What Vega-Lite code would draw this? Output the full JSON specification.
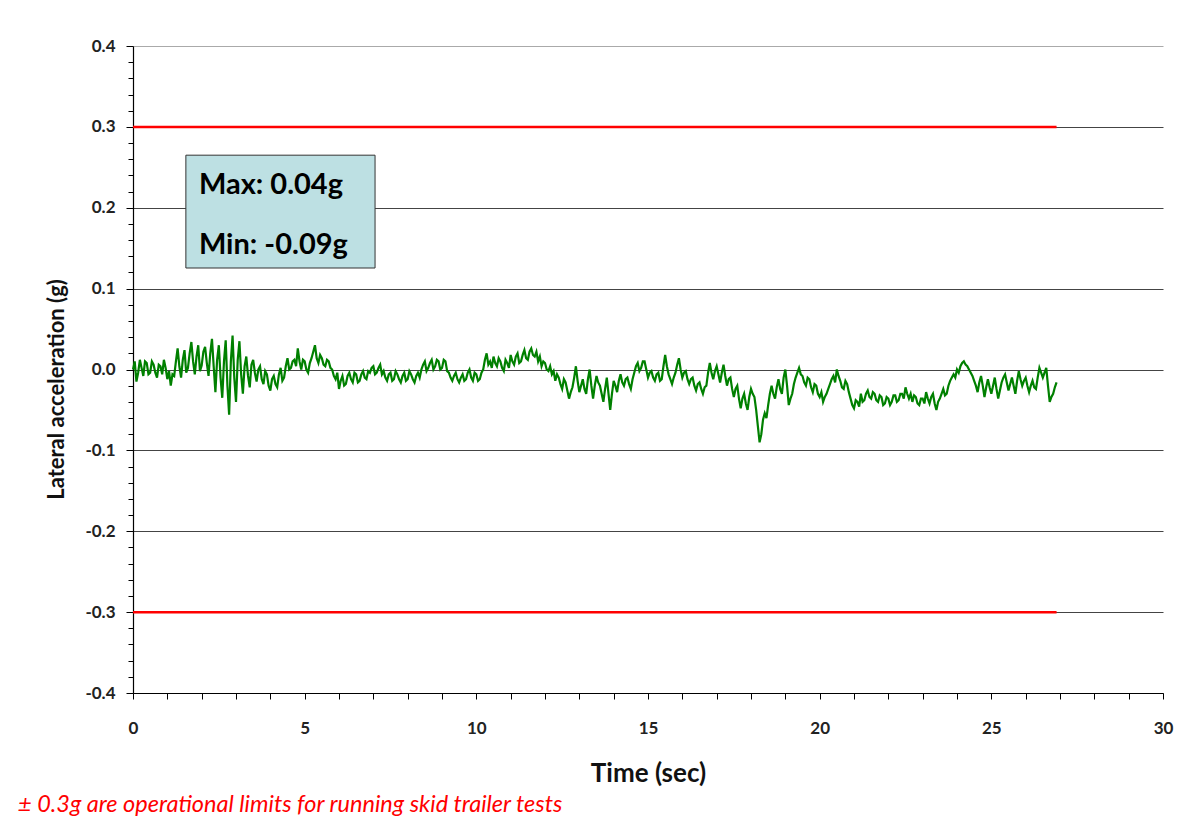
{
  "$schema": "https://vega.github.io/schema/vega-lite/v6.json",
  "width": 1030,
  "height": 647,
  "autosize": {"type": "none"},
  "padding": {"left": 133, "top": 46, "right": 32, "bottom": 126},
  "background": "white",
  "config": {"view": {"stroke": null}, "font": "Lato"},
  "title": {"text": "± 0.3g are operational limits for running skid trailer tests", "orient": "bottom", "anchor": "start", "frame": "group", "dx": -115, "offset": 7, "font": "Lato", "fontSize": 23.5, "fontStyle": "italic", "fontWeight": "normal", "color": "#ff0000"},
  "datasets": {
    "accel": [
      {"t":0.0,"g":0.000},{"t":0.05,"g":0.010},{"t":0.1,"g":-0.015},{"t":0.15,"g":-0.004},{"t":0.2,"g":0.012},{"t":0.25,"g":0.002},{"t":0.3,"g":-0.008},{"t":0.35,"g":0.010},{"t":0.4,"g":0.008},{"t":0.45,"g":-0.006},
      {"t":0.5,"g":-0.004},{"t":0.55,"g":0.010},{"t":0.6,"g":0.006},{"t":0.65,"g":-0.004},{"t":0.7,"g":-0.010},{"t":0.75,"g":0.006},{"t":0.8,"g":0.004},{"t":0.85,"g":-0.006},{"t":0.9,"g":0.012},{"t":0.95,"g":0.002},
      {"t":1.0,"g":-0.012},{"t":1.05,"g":-0.002},{"t":1.1,"g":-0.020},{"t":1.15,"g":-0.006},{"t":1.2,"g":-0.008},{"t":1.25,"g":0.010},{"t":1.3,"g":0.026},{"t":1.35,"g":0.004},{"t":1.4,"g":-0.010},{"t":1.45,"g":0.012},
      {"t":1.5,"g":0.024},{"t":1.55,"g":-0.004},{"t":1.6,"g":0.002},{"t":1.65,"g":0.020},{"t":1.7,"g":0.034},{"t":1.75,"g":0.010},{"t":1.8,"g":-0.006},{"t":1.85,"g":0.016},{"t":1.9,"g":0.030},{"t":1.95,"g":-0.002},
      {"t":2.0,"g":0.005},{"t":2.05,"g":0.022},{"t":2.1,"g":0.028},{"t":2.15,"g":0.008},{"t":2.2,"g":-0.008},{"t":2.25,"g":0.020},{"t":2.3,"g":0.038},{"t":2.35,"g":0.004},{"t":2.4,"g":-0.028},{"t":2.45,"g":0.012},
      {"t":2.5,"g":0.030},{"t":2.55,"g":-0.010},{"t":2.6,"g":-0.035},{"t":2.65,"g":0.010},{"t":2.7,"g":0.036},{"t":2.75,"g":-0.020},{"t":2.8,"g":-0.056},{"t":2.85,"g":0.010},{"t":2.9,"g":0.042},{"t":2.95,"g":-0.010},
      {"t":3.0,"g":-0.040},{"t":3.05,"g":0.012},{"t":3.1,"g":0.035},{"t":3.15,"g":-0.006},{"t":3.2,"g":-0.030},{"t":3.25,"g":0.004},{"t":3.3,"g":0.016},{"t":3.35,"g":-0.008},{"t":3.4,"g":-0.022},{"t":3.45,"g":0.006},
      {"t":3.5,"g":0.012},{"t":3.55,"g":-0.004},{"t":3.6,"g":-0.015},{"t":3.65,"g":0.000},{"t":3.7,"g":0.004},{"t":3.75,"g":-0.012},{"t":3.8,"g":-0.018},{"t":3.85,"g":-0.002},{"t":3.9,"g":-0.006},{"t":3.95,"g":-0.020},
      {"t":4.0,"g":-0.026},{"t":4.05,"g":-0.012},{"t":4.1,"g":-0.008},{"t":4.15,"g":-0.018},{"t":4.2,"g":-0.022},{"t":4.25,"g":-0.006},{"t":4.3,"g":0.002},{"t":4.35,"g":-0.014},{"t":4.4,"g":-0.010},{"t":4.45,"g":0.004},
      {"t":4.5,"g":0.014},{"t":4.55,"g":0.000},{"t":4.6,"g":0.002},{"t":4.65,"g":0.010},{"t":4.7,"g":0.012},{"t":4.75,"g":0.004},{"t":4.8,"g":0.026},{"t":4.85,"g":0.010},{"t":4.9,"g":0.000},{"t":4.95,"g":0.012},
      {"t":5.0,"g":0.010},{"t":5.05,"g":0.000},{"t":5.1,"g":-0.004},{"t":5.15,"g":0.008},{"t":5.2,"g":0.014},{"t":5.25,"g":0.022},{"t":5.3,"g":0.030},{"t":5.35,"g":0.014},{"t":5.4,"g":0.008},{"t":5.45,"g":0.018},
      {"t":5.5,"g":0.014},{"t":5.55,"g":0.006},{"t":5.6,"g":0.004},{"t":5.65,"g":0.012},{"t":5.7,"g":0.010},{"t":5.75,"g":0.002},{"t":5.8,"g":0.000},{"t":5.85,"g":-0.008},{"t":5.9,"g":-0.012},{"t":5.95,"g":-0.004},
      {"t":6.0,"g":-0.024},{"t":6.05,"g":-0.014},{"t":6.1,"g":-0.008},{"t":6.15,"g":-0.020},{"t":6.2,"g":-0.018},{"t":6.25,"g":-0.008},{"t":6.3,"g":-0.004},{"t":6.35,"g":-0.012},{"t":6.4,"g":-0.016},{"t":6.45,"g":-0.004},
      {"t":6.5,"g":-0.006},{"t":6.55,"g":-0.016},{"t":6.6,"g":-0.014},{"t":6.65,"g":-0.006},{"t":6.7,"g":-0.002},{"t":6.75,"g":-0.010},{"t":6.8,"g":-0.012},{"t":6.85,"g":-0.002},{"t":6.9,"g":-0.004},{"t":6.95,"g":0.002},
      {"t":7.0,"g":0.004},{"t":7.05,"g":-0.006},{"t":7.1,"g":-0.004},{"t":7.15,"g":0.002},{"t":7.2,"g":0.006},{"t":7.25,"g":-0.006},{"t":7.3,"g":-0.002},{"t":7.35,"g":-0.010},{"t":7.4,"g":-0.014},{"t":7.45,"g":-0.006},
      {"t":7.5,"g":-0.004},{"t":7.55,"g":-0.014},{"t":7.6,"g":-0.012},{"t":7.65,"g":-0.002},{"t":7.7,"g":-0.006},{"t":7.75,"g":-0.012},{"t":7.8,"g":-0.016},{"t":7.85,"g":-0.008},{"t":7.9,"g":-0.004},{"t":7.95,"g":-0.014},
      {"t":8.0,"g":-0.012},{"t":8.05,"g":-0.002},{"t":8.1,"g":-0.006},{"t":8.15,"g":-0.012},{"t":8.2,"g":-0.016},{"t":8.25,"g":-0.008},{"t":8.3,"g":-0.004},{"t":8.35,"g":-0.010},{"t":8.4,"g":0.000},{"t":8.45,"g":0.006},
      {"t":8.5,"g":0.010},{"t":8.55,"g":-0.002},{"t":8.6,"g":0.002},{"t":8.65,"g":0.008},{"t":8.7,"g":0.012},{"t":8.75,"g":0.000},{"t":8.8,"g":0.004},{"t":8.85,"g":0.012},{"t":8.9,"g":0.010},{"t":8.95,"g":0.000},
      {"t":9.0,"g":0.002},{"t":9.05,"g":0.012},{"t":9.1,"g":0.010},{"t":9.15,"g":-0.002},{"t":9.2,"g":-0.004},{"t":9.25,"g":-0.010},{"t":9.3,"g":-0.014},{"t":9.35,"g":-0.008},{"t":9.4,"g":-0.004},{"t":9.45,"g":-0.012},
      {"t":9.5,"g":-0.016},{"t":9.55,"g":-0.010},{"t":9.6,"g":-0.006},{"t":9.65,"g":-0.014},{"t":9.7,"g":-0.012},{"t":9.75,"g":-0.004},{"t":9.8,"g":0.000},{"t":9.85,"g":-0.010},{"t":9.9,"g":-0.014},{"t":9.95,"g":-0.004},
      {"t":10.0,"g":-0.006},{"t":10.05,"g":-0.014},{"t":10.1,"g":-0.012},{"t":10.15,"g":-0.004},{"t":10.2,"g":0.000},{"t":10.25,"g":0.012},{"t":10.3,"g":0.020},{"t":10.35,"g":0.006},{"t":10.4,"g":0.010},{"t":10.45,"g":0.002},
      {"t":10.5,"g":0.016},{"t":10.55,"g":0.008},{"t":10.6,"g":0.004},{"t":10.65,"g":0.014},{"t":10.7,"g":0.010},{"t":10.75,"g":0.002},{"t":10.8,"g":-0.002},{"t":10.85,"g":0.012},{"t":10.9,"g":0.008},{"t":10.95,"g":0.002},
      {"t":11.0,"g":0.018},{"t":11.05,"g":0.010},{"t":11.1,"g":0.006},{"t":11.15,"g":0.016},{"t":11.2,"g":0.020},{"t":11.25,"g":0.008},{"t":11.3,"g":0.010},{"t":11.35,"g":0.018},{"t":11.4,"g":0.024},{"t":11.45,"g":0.014},
      {"t":11.5,"g":0.012},{"t":11.55,"g":0.022},{"t":11.6,"g":0.026},{"t":11.65,"g":0.018},{"t":11.7,"g":0.016},{"t":11.75,"g":0.022},{"t":11.8,"g":0.010},{"t":11.85,"g":0.016},{"t":11.9,"g":0.004},{"t":11.95,"g":0.010},
      {"t":12.0,"g":0.008},{"t":12.05,"g":0.000},{"t":12.1,"g":-0.002},{"t":12.15,"g":0.004},{"t":12.2,"g":-0.006},{"t":12.25,"g":-0.002},{"t":12.3,"g":-0.014},{"t":12.35,"g":-0.006},{"t":12.4,"g":-0.010},{"t":12.45,"g":-0.018},
      {"t":12.5,"g":-0.024},{"t":12.55,"g":-0.012},{"t":12.6,"g":-0.016},{"t":12.65,"g":-0.026},{"t":12.7,"g":-0.036},{"t":12.75,"g":-0.028},{"t":12.8,"g":-0.022},{"t":12.85,"g":-0.010},{"t":12.9,"g":0.004},{"t":12.95,"g":-0.014},
      {"t":13.0,"g":-0.028},{"t":13.05,"g":-0.020},{"t":13.1,"g":-0.012},{"t":13.15,"g":-0.024},{"t":13.2,"g":-0.030},{"t":13.25,"g":-0.012},{"t":13.3,"g":0.000},{"t":13.35,"g":-0.020},{"t":13.4,"g":-0.036},{"t":13.45,"g":-0.020},
      {"t":13.5,"g":-0.008},{"t":13.55,"g":-0.016},{"t":13.6,"g":-0.020},{"t":13.65,"g":-0.030},{"t":13.7,"g":-0.040},{"t":13.75,"g":-0.024},{"t":13.8,"g":-0.010},{"t":13.85,"g":-0.030},{"t":13.9,"g":-0.050},{"t":13.95,"g":-0.030},
      {"t":14.0,"g":-0.014},{"t":14.05,"g":-0.020},{"t":14.1,"g":-0.028},{"t":14.15,"g":-0.014},{"t":14.2,"g":-0.006},{"t":14.25,"g":-0.016},{"t":14.3,"g":-0.020},{"t":14.35,"g":-0.012},{"t":14.4,"g":-0.010},{"t":14.45,"g":-0.018},
      {"t":14.5,"g":-0.024},{"t":14.55,"g":-0.012},{"t":14.6,"g":-0.004},{"t":14.65,"g":0.004},{"t":14.7,"g":0.008},{"t":14.75,"g":-0.002},{"t":14.8,"g":0.002},{"t":14.85,"g":0.010},{"t":14.9,"g":0.010},{"t":14.95,"g":0.000},
      {"t":15.0,"g":-0.010},{"t":15.05,"g":-0.004},{"t":15.1,"g":-0.002},{"t":15.15,"g":-0.010},{"t":15.2,"g":-0.014},{"t":15.25,"g":-0.006},{"t":15.3,"g":-0.004},{"t":15.35,"g":-0.014},{"t":15.4,"g":-0.012},{"t":15.45,"g":0.004},
      {"t":15.5,"g":0.018},{"t":15.55,"g":0.004},{"t":15.6,"g":-0.006},{"t":15.65,"g":-0.012},{"t":15.7,"g":-0.018},{"t":15.75,"g":-0.010},{"t":15.8,"g":-0.004},{"t":15.85,"g":0.006},{"t":15.9,"g":0.014},{"t":15.95,"g":0.000},
      {"t":16.0,"g":-0.010},{"t":16.05,"g":-0.004},{"t":16.1,"g":-0.002},{"t":16.15,"g":-0.012},{"t":16.2,"g":-0.018},{"t":16.25,"g":-0.012},{"t":16.3,"g":-0.010},{"t":16.35,"g":-0.020},{"t":16.4,"g":-0.026},{"t":16.45,"g":-0.018},
      {"t":16.5,"g":-0.016},{"t":16.55,"g":-0.024},{"t":16.6,"g":-0.030},{"t":16.65,"g":-0.022},{"t":16.7,"g":-0.020},{"t":16.75,"g":-0.004},{"t":16.8,"g":0.008},{"t":16.85,"g":-0.004},{"t":16.9,"g":-0.012},{"t":16.95,"g":-0.002},
      {"t":17.0,"g":0.004},{"t":17.05,"g":-0.006},{"t":17.1,"g":-0.016},{"t":17.15,"g":-0.004},{"t":17.2,"g":0.006},{"t":17.25,"g":-0.008},{"t":17.3,"g":-0.020},{"t":17.35,"g":-0.012},{"t":17.4,"g":-0.010},{"t":17.45,"g":-0.024},
      {"t":17.5,"g":-0.034},{"t":17.55,"g":-0.024},{"t":17.6,"g":-0.020},{"t":17.65,"g":-0.036},{"t":17.7,"g":-0.048},{"t":17.75,"g":-0.036},{"t":17.8,"g":-0.030},{"t":17.85,"g":-0.042},{"t":17.9,"g":-0.050},{"t":17.95,"g":-0.034},
      {"t":18.0,"g":-0.024},{"t":18.05,"g":-0.030},{"t":18.1,"g":-0.034},{"t":18.15,"g":-0.050},{"t":18.2,"g":-0.070},{"t":18.25,"g":-0.090},{"t":18.3,"g":-0.080},{"t":18.35,"g":-0.062},{"t":18.4,"g":-0.054},{"t":18.45,"g":-0.060},
      {"t":18.5,"g":-0.044},{"t":18.55,"g":-0.030},{"t":18.6,"g":-0.020},{"t":18.65,"g":-0.030},{"t":18.7,"g":-0.036},{"t":18.75,"g":-0.022},{"t":18.8,"g":-0.012},{"t":18.85,"g":-0.024},{"t":18.9,"g":-0.030},{"t":18.95,"g":-0.010},
      {"t":19.0,"g":0.000},{"t":19.05,"g":-0.020},{"t":19.1,"g":-0.044},{"t":19.15,"g":-0.036},{"t":19.2,"g":-0.030},{"t":19.25,"g":-0.018},{"t":19.3,"g":-0.010},{"t":19.35,"g":-0.004},{"t":19.4,"g":0.002},{"t":19.45,"g":-0.006},
      {"t":19.5,"g":-0.008},{"t":19.55,"g":-0.016},{"t":19.6,"g":-0.020},{"t":19.65,"g":-0.010},{"t":19.7,"g":-0.012},{"t":19.75,"g":-0.022},{"t":19.8,"g":-0.028},{"t":19.85,"g":-0.018},{"t":19.9,"g":-0.020},{"t":19.95,"g":-0.030},
      {"t":20.0,"g":-0.034},{"t":20.05,"g":-0.028},{"t":20.1,"g":-0.040},{"t":20.15,"g":-0.034},{"t":20.2,"g":-0.030},{"t":20.25,"g":-0.024},{"t":20.3,"g":-0.018},{"t":20.35,"g":-0.012},{"t":20.4,"g":-0.008},{"t":20.45,"g":-0.016},
      {"t":20.5,"g":0.000},{"t":20.55,"g":-0.008},{"t":20.6,"g":-0.014},{"t":20.65,"g":-0.022},{"t":20.7,"g":-0.024},{"t":20.75,"g":-0.014},{"t":20.8,"g":-0.018},{"t":20.85,"g":-0.028},{"t":20.9,"g":-0.036},{"t":20.95,"g":-0.044},
      {"t":21.0,"g":-0.048},{"t":21.05,"g":-0.038},{"t":21.1,"g":-0.040},{"t":21.15,"g":-0.046},{"t":21.2,"g":-0.030},{"t":21.25,"g":-0.040},{"t":21.3,"g":-0.038},{"t":21.35,"g":-0.030},{"t":21.4,"g":-0.026},{"t":21.45,"g":-0.034},
      {"t":21.5,"g":-0.036},{"t":21.55,"g":-0.028},{"t":21.6,"g":-0.030},{"t":21.65,"g":-0.038},{"t":21.7,"g":-0.040},{"t":21.75,"g":-0.032},{"t":21.8,"g":-0.034},{"t":21.85,"g":-0.044},{"t":21.9,"g":-0.042},{"t":21.95,"g":-0.034},
      {"t":22.0,"g":-0.036},{"t":22.05,"g":-0.044},{"t":22.1,"g":-0.040},{"t":22.15,"g":-0.032},{"t":22.2,"g":-0.032},{"t":22.25,"g":-0.040},{"t":22.3,"g":-0.038},{"t":22.35,"g":-0.030},{"t":22.4,"g":-0.030},{"t":22.45,"g":-0.036},
      {"t":22.5,"g":-0.022},{"t":22.55,"g":-0.030},{"t":22.6,"g":-0.036},{"t":22.65,"g":-0.030},{"t":22.7,"g":-0.040},{"t":22.75,"g":-0.032},{"t":22.8,"g":-0.034},{"t":22.85,"g":-0.042},{"t":22.9,"g":-0.044},{"t":22.95,"g":-0.036},
      {"t":23.0,"g":-0.036},{"t":23.05,"g":-0.042},{"t":23.1,"g":-0.028},{"t":23.15,"g":-0.036},{"t":23.2,"g":-0.042},{"t":23.25,"g":-0.034},{"t":23.3,"g":-0.030},{"t":23.35,"g":-0.042},{"t":23.4,"g":-0.050},{"t":23.45,"g":-0.040},
      {"t":23.5,"g":-0.036},{"t":23.55,"g":-0.030},{"t":23.6,"g":-0.024},{"t":23.65,"g":-0.032},{"t":23.7,"g":-0.030},{"t":23.75,"g":-0.020},{"t":23.8,"g":-0.014},{"t":23.85,"g":-0.010},{"t":23.9,"g":-0.006},{"t":23.95,"g":-0.010},
      {"t":24.0,"g":0.000},{"t":24.05,"g":-0.004},{"t":24.1,"g":0.004},{"t":24.15,"g":0.008},{"t":24.2,"g":0.010},{"t":24.25,"g":0.006},{"t":24.3,"g":0.004},{"t":24.35,"g":0.000},{"t":24.4,"g":-0.004},{"t":24.45,"g":-0.008},
      {"t":24.5,"g":-0.014},{"t":24.55,"g":-0.020},{"t":24.6,"g":-0.028},{"t":24.65,"g":-0.016},{"t":24.7,"g":-0.008},{"t":24.75,"g":-0.020},{"t":24.8,"g":-0.034},{"t":24.85,"g":-0.022},{"t":24.9,"g":-0.012},{"t":24.95,"g":-0.022},
      {"t":25.0,"g":-0.030},{"t":25.05,"g":-0.020},{"t":25.1,"g":-0.010},{"t":25.15,"g":-0.024},{"t":25.2,"g":-0.036},{"t":25.25,"g":-0.026},{"t":25.3,"g":-0.016},{"t":25.35,"g":-0.010},{"t":25.4,"g":-0.006},{"t":25.45,"g":-0.016},
      {"t":25.5,"g":-0.026},{"t":25.55,"g":-0.018},{"t":25.6,"g":-0.010},{"t":25.65,"g":-0.020},{"t":25.7,"g":-0.030},{"t":25.75,"g":-0.014},{"t":25.8,"g":-0.002},{"t":25.85,"g":-0.012},{"t":25.9,"g":-0.020},{"t":25.95,"g":-0.014},
      {"t":26.0,"g":-0.010},{"t":26.05,"g":-0.020},{"t":26.1,"g":-0.028},{"t":26.15,"g":-0.020},{"t":26.2,"g":-0.014},{"t":26.25,"g":-0.022},{"t":26.3,"g":-0.024},{"t":26.35,"g":-0.010},{"t":26.4,"g":0.002},{"t":26.45,"g":-0.004},
      {"t":26.5,"g":-0.010},{"t":26.55,"g":-0.004},{"t":26.6,"g":0.002},{"t":26.65,"g":-0.020},{"t":26.7,"g":-0.040},{"t":26.75,"g":-0.034},{"t":26.8,"g":-0.030},{"t":26.85,"g":-0.022},{"t":26.9,"g":-0.016}
    ],
    "limits": [{"t0":0,"t1":26.9,"g":0.3},{"t0":0,"t1":26.9,"g":-0.3}],
    "box": [{"t0":1.54,"t1":7.05,"g0":0.1255,"g1":0.265}],
    "notes": [{"t":1.92,"g":0.228,"label":"Max: 0.04g"},{"t":1.92,"g":0.154,"label":"Min: -0.09g"}]
  },
  "layer": [
    {
      "data": {"name": "accel"},
      "mark": {"type": "line", "color": "#008000", "strokeWidth": 2.2},
      "encoding": {
        "x": {"field": "t", "type": "quantitative", "scale": {"domain": [0, 30], "nice": false, "zero": false},
          "axis": {"title": "Time (sec)", "tickCount": 100, "labelOverlap": false, "labelFlush": false,
            "values": [0,1,2,3,4,5,6,7,8,9,10,11,12,13,14,15,16,17,18,19,20,21,22,23,24,25,26,27,28,29,30],
            "labelExpr": "datum.value % 5 === 0 ? format(datum.value, 'd') : ''", "grid": false, "domainColor": "#000", "domainWidth": 1.2, "tickColor": "#000", "tickSize": 6,
            "labelFont": "Lato", "labelFontSize": 17, "labelFontWeight": "bold", "labelColor": "#222", "labelPadding": 21,
            "titleFont": "Lato", "titleFontSize": 26, "titleFontWeight": "bold", "titleColor": "#111", "titlePadding": 24}},
        "y": {"field": "g", "type": "quantitative", "scale": {"domain": [-0.4, 0.4], "nice": false, "zero": false},
          "axis": {"title": "Lateral acceleration (g)", "tickCount": 100, "labelOverlap": false, "labelFlush": false, "titleY": 343,
            "values": [-0.4,-0.38,-0.36,-0.34,-0.32,-0.3,-0.28,-0.26,-0.24,-0.22,-0.2,-0.18,-0.16,-0.14,-0.12,-0.1,-0.08,-0.06,-0.04,-0.02,0,0.02,0.04,0.06,0.08,0.1,0.12,0.14,0.16,0.18,0.2,0.22,0.24,0.26,0.28,0.3,0.32,0.34,0.36,0.38,0.4],
            "labelExpr": "abs(round(datum.value*50)) % 5 === 0 ? replace(format(datum.value, '.1f'), '\u2212', '-') : ''",
            "grid": true,
            "gridOpacity": {"condition": {"test": "abs(round(datum.value*50)) % 5 !== 0", "value": 0}, "value": 1},
            "gridColor": {"condition": {"test": "datum.value > 0.39", "value": "#aaaaaa"}, "value": "#444444"},
            "gridWidth": 1,
            "domainColor": "#000", "domainWidth": 1.2, "tickColor": "#000",
            "tickSize": {"condition": {"test": "abs(round(datum.value*50)) % 5 === 0", "value": 7}, "value": 5},
            "labelFont": "Lato", "labelFontSize": 17, "labelFontWeight": "bold", "labelColor": "#222", "labelPadding": 11,
            "titleFont": "Lato", "titleFontSize": 22, "titleFontWeight": "bold", "titleColor": "#111", "titlePadding": 16}}
      }
    },
    {
      "data": {"name": "limits"},
      "mark": {"type": "rule", "color": "#ff0000", "strokeWidth": 2.5},
      "encoding": {"x": {"field": "t0", "type": "quantitative"}, "x2": {"field": "t1"}, "y": {"field": "g", "type": "quantitative"}}
    },
    {
      "data": {"name": "box"},
      "mark": {"type": "rect", "fill": "#bde0e3", "stroke": "#333333", "strokeWidth": 1},
      "encoding": {"x": {"field": "t0", "type": "quantitative"}, "x2": {"field": "t1"}, "y": {"field": "g0", "type": "quantitative"}, "y2": {"field": "g1"}}
    },
    {
      "data": {"name": "notes"},
      "mark": {"type": "text", "align": "left", "baseline": "middle", "font": "Lato", "fontSize": 29, "fontWeight": "bold", "color": "#000"},
      "encoding": {"x": {"field": "t", "type": "quantitative"}, "y": {"field": "g", "type": "quantitative"}, "text": {"field": "label"}}
    }
  ]
}
